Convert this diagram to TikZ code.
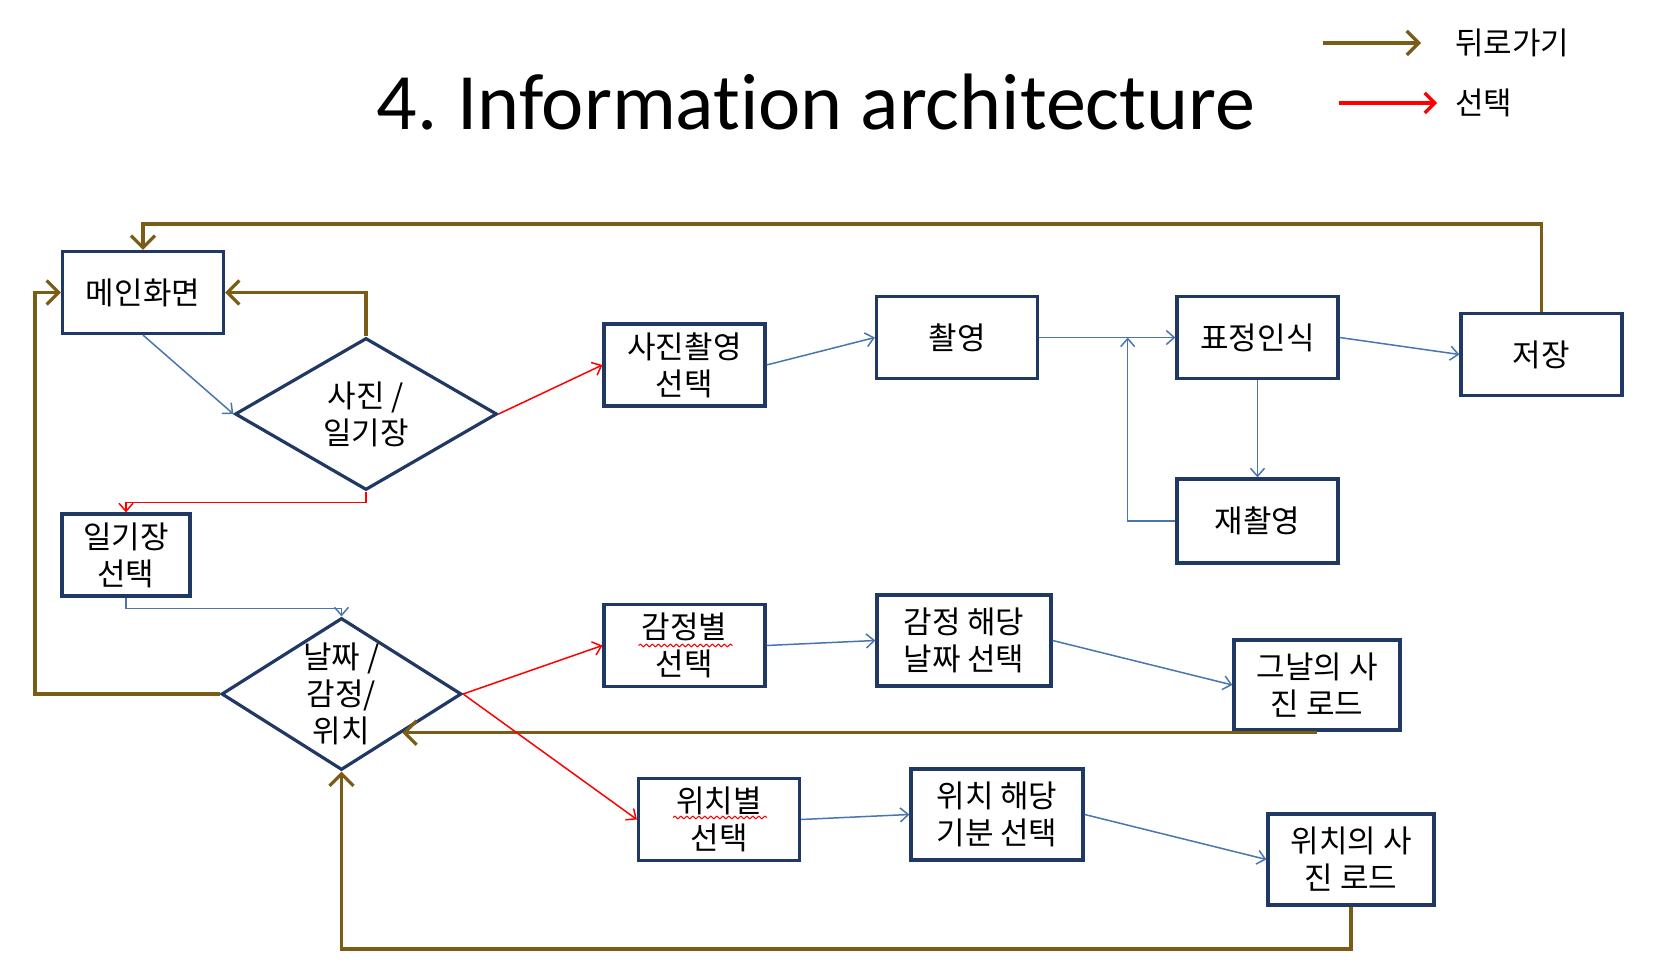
\documentclass[tikz,border=0pt]{standalone}
\usepackage{fontspec}
\setmainfont{Noto Sans CJK KR}
\newfontfamily\titlefont[Ligatures={NoCommon,NoRequired,NoContextual}]{Carlito}
\usetikzlibrary{positioning, arrows.meta, shapes.geometric, calc, decorations.pathmorphing}

\definecolor{boxnavy}{RGB}{32,56,100}
\definecolor{backbrown}{RGB}{122,92,22}
\definecolor{goblue}{RGB}{74,118,176}

\begin{document}
\begin{tikzpicture}[
    x=0.5pt, y=-0.5pt,
    ia_box/.style = {draw=boxnavy, line width=1.6pt, rectangle, minimum width=80.5pt, minimum height=41pt, align=center, inner sep=2pt, font=\fontsize{15.5}{18.5}\selectfont},
    ia_dia/.style = {ia_box, diamond, aspect=1.6, inner sep=0pt},
    arrow_back/.style = {-{Straight Barb[length=6pt, width=12pt]}, line width=1.6pt, backbrown},
    arrow_pick/.style = {-{Straight Barb[length=4pt, width=7pt]}, line width=0.75pt, red},
    arrow_go/.style = {-{Straight Barb[length=4pt, width=7pt]}, line width=0.75pt, goblue},
    spell/.style = {red, line width=0.5pt, decorate, decoration={snake, amplitude=0.7pt, segment length=3pt}},
    legend_txt/.style = {anchor=west, font=\fontsize{15.5}{18.5}\selectfont}
]
\fill[white] (0,0) rectangle (1662,972);
\useasboundingbox (0,0) rectangle (1662,972);

% --- Title and legend ---
\node[font=\titlefont\fontsize{40}{44}\selectfont, anchor=base] (title) at (816,130) {4.\kern-2pt{} Information architecture};
\coordinate (leg_back_a) at (1323,43);
\coordinate (leg_back_b) at (1421,43);
\node[legend_txt] (leg_back) at (1448,43) {뒤로가기};
\draw[arrow_back] (leg_back_a) -- (leg_back_b);
\coordinate (leg_pick_a) at (1339,103);
\coordinate (leg_pick_b) at (1437,103);
\node[legend_txt] (leg_pick) at (1448,103) {선택};
\draw[arrow_pick, line width=1.6pt, -{Straight Barb[length=5pt, width=10pt]}] (leg_pick_a) -- (leg_pick_b);

% --- Upper flow: main screen, photo branch ---
\node[ia_box] (main) at (143,292.5) {메인화면};
\node[ia_dia, minimum width=131pt, minimum height=76pt] (dia_kind) at (366,414) {사진 /\\일기장};
\node[ia_box] (photo_sel) at (684.5,365) {사진촬영\\선택};
\node[ia_box] (shoot) at (957,337.5) {촬영};
\node[ia_box] (face) at (1257.5,337.5) {표정인식};
\node[ia_box] (save) at (1541.5,354.5) {저장};
\node[ia_box, minimum height=42pt] (reshoot) at (1257.5,521) {재촬영};

% --- Lower flow: diary branch ---
\node[ia_box, minimum width=64pt] (diary_sel) at (126,555) {일기장\\선택};
\node[ia_dia, minimum width=120pt, minimum height=76pt] (dia_sort) at (341.5,694) {날짜 /\\감정/\\위치};
\node[ia_box] (emo_sel) at (684.5,645.5) {감정별\\선택};
\node[ia_box, minimum width=87pt, minimum height=45.5pt] (emo_date) at (964,640.5) {감정 해당\\날짜 선택};
\node[ia_box, minimum width=83pt, minimum height=45pt] (day_load) at (1317,685) {그날의 사\\진 로드};
\node[ia_box] (loc_sel) at (719,819.5) {위치별\\선택};
\node[ia_box, minimum width=86pt, minimum height=45.5pt] (loc_mood) at (997,814.5) {위치 해당\\기분 선택};
\node[ia_box, minimum width=83pt, minimum height=45.5pt] (loc_load) at (1351,859.5) {위치의 사\\진 로드};

% spell-check marks
\draw[spell] ($(emo_sel.center)+(-46,0)$) -- ++(94,0);
\draw[spell] ($(loc_sel.center)+(-46,-2)$) -- ++(94,0);

% --- Back arrows (brown) ---
\coordinate (top_rail) at (0,224);
\coordinate (left_rail) at (35,0);
\coordinate (bottom_rail) at (0,949);
\draw[arrow_back] (save.north) -- (save.north |- top_rail) -| (main.north);
\draw[arrow_back] (dia_kind.north) |- (main.east);
\draw[arrow_back] (dia_sort.west) -- (dia_sort.west -| left_rail) |- (main.west);
\draw[arrow_back] (dia_sort.south east -| day_load.south) -- (dia_sort.south east);
\draw[arrow_back] (loc_load.south) -- (loc_load.south |- bottom_rail) -| (dia_sort.south);

% --- Flow arrows (blue) ---
\draw[arrow_go] (main.south) -- (dia_kind.west);
\draw[arrow_go] (photo_sel.east) -- (shoot.west);
\draw[arrow_go] (shoot.east) -- (face.west);
\draw[arrow_go] (face.east) -- (save.west);
\draw[arrow_go] (face.south) -- (reshoot.north);
\draw[arrow_go] (reshoot.west) -| ($(shoot.east)!0.65!(face.west)$);
\draw[arrow_go] (diary_sel.south) -- ++(0,11) -| (dia_sort.north);
\draw[arrow_go] (emo_sel.east) -- (emo_date.west);
\draw[arrow_go] (emo_date.east) -- (day_load.west);
\draw[arrow_go] (loc_sel.east) -- (loc_mood.west);
\draw[arrow_go] (loc_mood.east) -- (loc_load.west);

% --- Selection arrows (red) ---
\draw[arrow_pick] (dia_kind.east) -- (photo_sel.west);
\draw[arrow_pick] (dia_kind.south) -- ++(0,11) -| (diary_sel.north);
\draw[arrow_pick] (dia_sort.east) -- (emo_sel.west);
\draw[arrow_pick] (dia_sort.east) -- (loc_sel.west);

\end{tikzpicture}
\end{document}
